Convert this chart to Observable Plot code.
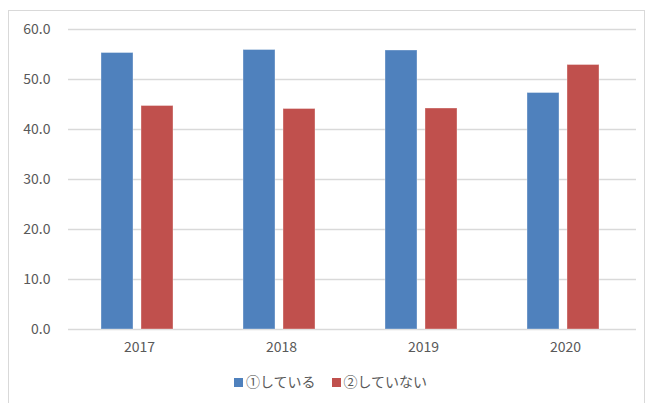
<!DOCTYPE html>
<html><head><meta charset="utf-8">
<script src="https://cdn.jsdelivr.net/npm/d3@7"></script>
<script src="https://cdn.jsdelivr.net/npm/@observablehq/plot@0.6"></script>
<style>
html,body{margin:0;padding:0;background:#fff;overflow:hidden;width:649px;height:403px;}
#frame{position:absolute;left:8px;top:10px;width:637px;height:400px;border:1px solid #d9d9d9;box-sizing:border-box;}
#chart{position:absolute;left:0;top:0;}
#legend{position:absolute;left:6px;top:371px;width:649px;text-align:center;font-family:"Noto Sans CJK JP",sans-serif;font-size:14px;color:#595959;}
#legend span.sw{display:inline-block;width:9px;height:9px;margin-right:3px;vertical-align:0px;}
#legend span.item{margin:0 8px;}
</style></head>
<body>
<div id="frame"></div>
<div id="chart"></div>
<div id="legend"></div>
<script>
const years = ["2017","2018","2019","2020"];
const seriesNames = ["①している","②していない"];
const doing = [55.3, 55.9, 55.8, 47.3];
const notDoing = [44.7, 44.1, 44.2, 52.9];
const colors = ["#4F81BD","#C0504D"];
const yTicks = [0,10,20,30,40,50,60];

const data = [];
years.forEach((y,i)=>{
  data.push({year:y, series:seriesNames[0], value:doing[i]});
  data.push({year:y, series:seriesNames[1], value:notDoing[i]});
});

const chart = Plot.plot({
  width:649, height:365,
  marginLeft:66, marginRight:12, marginTop:29, marginBottom:36,
  style:{fontFamily:"'Noto Sans CJK JP', sans-serif", fontSize:"14px", color:"#595959", background:"transparent"},
  fx:{domain:years, padding:0, label:null, axis:null},
  x:{domain:seriesNames, paddingInner:0.21, paddingOuter:0.86, align:0.47, axis:null},
  y:{domain:[0,60], ticks:yTicks, tickFormat:d=>d.toFixed(1), label:null, tickSize:0, tickPadding:19},
  color:{domain:seriesNames, range:colors},
  marks:[
    Plot.gridY(yTicks,{stroke:"#d9d9d9", strokeOpacity:1, strokeWidth:1.5}),
    Plot.barY(data,{fx:"year", x:"series", y:"value", fill:"series", stroke:"white", strokeOpacity:0.35, strokeWidth:1}),
    Plot.axisY({ticks:yTicks, tickFormat:d=>d.toFixed(1), tickSize:0, tickPadding:18, fontSize:14}),
    Plot.axisFx({anchor:"bottom", tickSize:0, tickPadding:13, fontSize:14, label:null})
  ]
});
document.getElementById("chart").appendChild(chart);

const lg = document.getElementById("legend");
seriesNames.forEach((s,i)=>{
  const it = document.createElement("span"); it.className="item";
  const sw = document.createElement("span"); sw.className="sw"; sw.style.background=colors[i];
  it.appendChild(sw); it.appendChild(document.createTextNode(s));
  lg.appendChild(it);
});
</script>
</body></html>
